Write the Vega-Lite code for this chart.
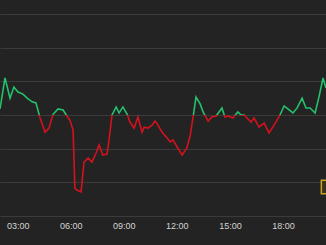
{
  "$schema": "https://vega.github.io/schema/vega-lite/v6.json",
  "width": 326,
  "height": 202,
  "autosize": {"type": "none"},
  "padding": {"top": 14, "left": 0, "right": 0, "bottom": 29},
  "background": "#232323",
  "config": {"view": {"stroke": null}},
  "datasets": {
    "series": [
      {"time": "2024-01-01T02:00:00", "value": 3.18},
      {"time": "2024-01-01T02:17:00", "value": 4.10},
      {"time": "2024-01-01T02:34:00", "value": 3.50},
      {"time": "2024-01-01T02:47:00", "value": 3.83},
      {"time": "2024-01-01T03:01:00", "value": 3.68},
      {"time": "2024-01-01T03:18:00", "value": 3.62},
      {"time": "2024-01-01T03:32:00", "value": 3.50},
      {"time": "2024-01-01T03:49:00", "value": 3.39},
      {"time": "2024-01-01T04:02:00", "value": 3.36},
      {"time": "2024-01-01T04:16:00", "value": 2.91},
      {"time": "2024-01-01T04:33:00", "value": 2.49},
      {"time": "2024-01-01T04:46:00", "value": 2.61},
      {"time": "2024-01-01T05:00:00", "value": 3.02},
      {"time": "2024-01-01T05:17:00", "value": 3.18},
      {"time": "2024-01-01T05:34:00", "value": 3.15},
      {"time": "2024-01-01T05:47:00", "value": 2.97},
      {"time": "2024-01-01T05:57:00", "value": 2.85},
      {"time": "2024-01-01T06:08:00", "value": 2.55},
      {"time": "2024-01-01T06:14:00", "value": 0.83},
      {"time": "2024-01-01T06:21:00", "value": 0.77},
      {"time": "2024-01-01T06:35:00", "value": 0.71},
      {"time": "2024-01-01T06:45:00", "value": 1.60},
      {"time": "2024-01-01T06:59:00", "value": 1.72},
      {"time": "2024-01-01T07:12:00", "value": 1.60},
      {"time": "2024-01-01T07:26:00", "value": 1.87},
      {"time": "2024-01-01T07:36:00", "value": 2.11},
      {"time": "2024-01-01T07:49:00", "value": 1.81},
      {"time": "2024-01-01T08:03:00", "value": 1.84},
      {"time": "2024-01-01T08:10:00", "value": 2.26},
      {"time": "2024-01-01T08:20:00", "value": 3.00},
      {"time": "2024-01-01T08:34:00", "value": 3.24},
      {"time": "2024-01-01T08:44:00", "value": 3.06},
      {"time": "2024-01-01T08:57:00", "value": 3.24},
      {"time": "2024-01-01T09:11:00", "value": 3.03},
      {"time": "2024-01-01T09:21:00", "value": 2.79},
      {"time": "2024-01-01T09:35:00", "value": 2.61},
      {"time": "2024-01-01T09:48:00", "value": 2.94},
      {"time": "2024-01-01T10:02:00", "value": 2.49},
      {"time": "2024-01-01T10:09:00", "value": 2.64},
      {"time": "2024-01-01T10:22:00", "value": 2.61},
      {"time": "2024-01-01T10:36:00", "value": 2.70},
      {"time": "2024-01-01T10:46:00", "value": 2.82},
      {"time": "2024-01-01T10:56:00", "value": 2.70},
      {"time": "2024-01-01T11:10:00", "value": 2.49},
      {"time": "2024-01-01T11:27:00", "value": 2.32},
      {"time": "2024-01-01T11:37:00", "value": 2.20},
      {"time": "2024-01-01T11:47:00", "value": 2.26},
      {"time": "2024-01-01T12:01:00", "value": 2.05},
      {"time": "2024-01-01T12:18:00", "value": 1.81},
      {"time": "2024-01-01T12:34:00", "value": 2.02},
      {"time": "2024-01-01T12:45:00", "value": 2.38},
      {"time": "2024-01-01T12:55:00", "value": 2.94},
      {"time": "2024-01-01T13:05:00", "value": 3.53},
      {"time": "2024-01-01T13:19:00", "value": 3.33},
      {"time": "2024-01-01T13:29:00", "value": 3.09},
      {"time": "2024-01-01T13:46:00", "value": 2.82},
      {"time": "2024-01-01T13:59:00", "value": 2.94},
      {"time": "2024-01-01T14:13:00", "value": 2.97},
      {"time": "2024-01-01T14:33:00", "value": 3.21},
      {"time": "2024-01-01T14:43:00", "value": 2.94},
      {"time": "2024-01-01T14:54:00", "value": 2.97},
      {"time": "2024-01-01T15:10:00", "value": 2.91},
      {"time": "2024-01-01T15:27:00", "value": 3.09},
      {"time": "2024-01-01T15:38:00", "value": 3.00},
      {"time": "2024-01-01T15:48:00", "value": 3.00},
      {"time": "2024-01-01T15:58:00", "value": 2.91},
      {"time": "2024-01-01T16:12:00", "value": 2.79},
      {"time": "2024-01-01T16:22:00", "value": 2.91},
      {"time": "2024-01-01T16:39:00", "value": 2.64},
      {"time": "2024-01-01T16:56:00", "value": 2.76},
      {"time": "2024-01-01T17:13:00", "value": 2.47},
      {"time": "2024-01-01T17:36:00", "value": 2.79},
      {"time": "2024-01-01T17:50:00", "value": 3.00},
      {"time": "2024-01-01T18:04:00", "value": 3.27},
      {"time": "2024-01-01T18:21:00", "value": 3.15},
      {"time": "2024-01-01T18:34:00", "value": 3.06},
      {"time": "2024-01-01T18:48:00", "value": 3.21},
      {"time": "2024-01-01T19:05:00", "value": 3.50},
      {"time": "2024-01-01T19:18:00", "value": 3.21},
      {"time": "2024-01-01T19:32:00", "value": 3.21},
      {"time": "2024-01-01T19:49:00", "value": 3.06},
      {"time": "2024-01-01T20:02:00", "value": 3.53},
      {"time": "2024-01-01T20:16:00", "value": 4.10},
      {"time": "2024-01-01T20:26:00", "value": 3.80}
    ],
    "events": [
      {"time": "2024-01-01T20:33:00", "value": 0.86}
    ]
  },
  "encoding": {
    "x": {
      "field": "time",
      "type": "temporal",
      "scale": {
        "domain": [
          {"year": 2024, "month": 1, "date": 1, "hours": 2, "minutes": 0},
          {"year": 2024, "month": 1, "date": 1, "hours": 20, "minutes": 26}
        ]
      },
      "axis": {
        "title": null,
        "format": "%H:%M",
        "values": [
          {"year": 2024, "month": 1, "date": 1, "hours": 3},
          {"year": 2024, "month": 1, "date": 1, "hours": 6},
          {"year": 2024, "month": 1, "date": 1, "hours": 9},
          {"year": 2024, "month": 1, "date": 1, "hours": 12},
          {"year": 2024, "month": 1, "date": 1, "hours": 15},
          {"year": 2024, "month": 1, "date": 1, "hours": 18}
        ],
        "grid": false,
        "ticks": false,
        "domain": false,
        "labelColor": "#d4d4d4",
        "labelFont": "Liberation Sans",
        "labelFontSize": 9,
        "labelPadding": 5,
        "labelFlush": false
      }
    },
    "y": {
      "field": "value",
      "type": "quantitative",
      "scale": {"domain": [0, 6], "nice": false, "zero": false},
      "axis": {
        "title": null,
        "values": [0, 1, 2, 3, 4, 5, 6],
        "labels": false,
        "ticks": false,
        "domain": false,
        "grid": true,
        "gridColor": "#3b3b3b",
        "gridWidth": 1
      }
    }
  },
  "layer": [
    {
      "data": {"name": "series"},
      "mark": {
        "type": "line",
        "strokeWidth": 1.6,
        "interpolate": "linear",
        "color": {
          "gradient": "linear",
          "x1": 0, "y1": 0, "x2": 0, "y2": 1,
          "stops": [
            {"offset": 0, "color": "#23c16b"},
            {"offset": 0.3246, "color": "#23c16b"},
            {"offset": 0.3246, "color": "#d3121d"},
            {"offset": 1, "color": "#d3121d"}
          ]
        }
      }
    },
    {
      "data": {"name": "events"},
      "mark": {
        "type": "point",
        "shape": "square",
        "size": 180,
        "filled": true,
        "fill": "#3a3318",
        "stroke": "#c9a227",
        "strokeWidth": 1.5,
        "opacity": 1
      }
    }
  ]
}
